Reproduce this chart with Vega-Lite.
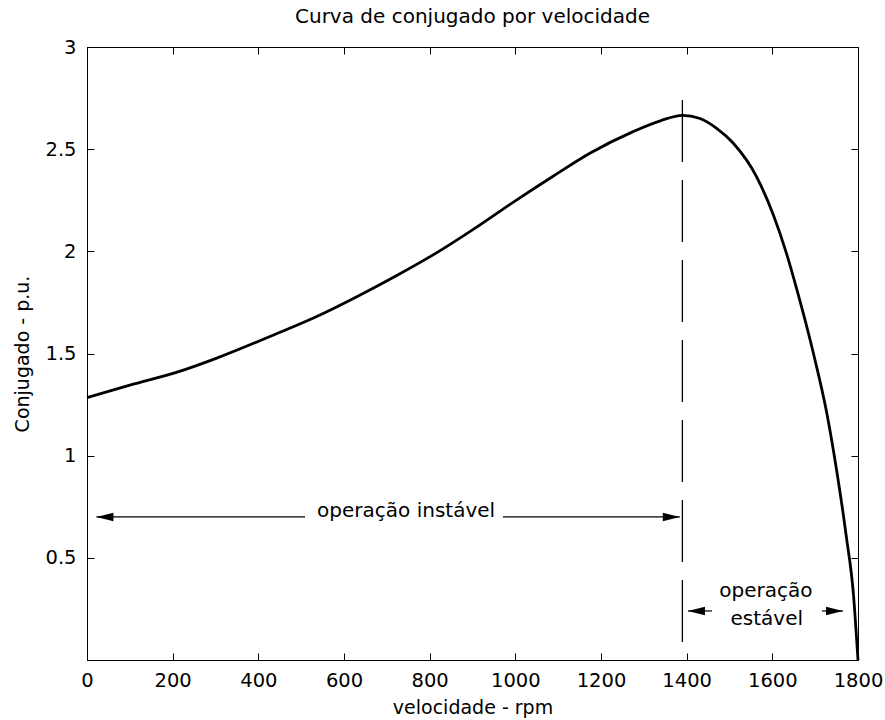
{
  "$schema": "https://vega.github.io/schema/vega-lite/v6.json",
  "autosize": {"type": "none"},
  "padding": {"left": 87, "top": 47, "right": 27, "bottom": 60},
  "width": 771,
  "height": 613,
  "background": "white",
  "title": {"text": "Curva de conjugado por velocidade", "font": "DejaVu Sans", "fontSize": 20, "fontWeight": "normal", "color": "black", "baseline": "alphabetic", "offset": 19, "dy": 25, "frame": "group", "anchor": "middle"},
  "config": {
    "view": {"stroke": "black", "strokeWidth": 1},
    "axis": {"labelFont": "DejaVu Sans", "labelFontSize": 19.5, "labelColor": "black", "titleFont": "DejaVu Sans", "titleFontSize": 19, "titleFontWeight": "normal", "titleColor": "black", "domainColor": "black", "tickColor": "black", "grid": false, "labelFlush": false, "labelOverlap": false, "tickSize": -7, "domainWidth": 1, "tickWidth": 1}
  },
  "resolve": {"axis": {"x": "independent", "y": "independent"}},
  "datasets": {
    "curve": [
      {"x": 0, "y": 1.284}, {"x": 100, "y": 1.345}, {"x": 214, "y": 1.411}, {"x": 300, "y": 1.475},
      {"x": 445, "y": 1.599}, {"x": 530, "y": 1.675}, {"x": 630, "y": 1.778}, {"x": 720, "y": 1.878},
      {"x": 814, "y": 1.99}, {"x": 900, "y": 2.105}, {"x": 999, "y": 2.246}, {"x": 1090, "y": 2.37},
      {"x": 1174, "y": 2.48}, {"x": 1275, "y": 2.586}, {"x": 1340, "y": 2.64}, {"x": 1390, "y": 2.665},
      {"x": 1431, "y": 2.65}, {"x": 1470, "y": 2.602}, {"x": 1509, "y": 2.529}, {"x": 1563, "y": 2.366},
      {"x": 1602, "y": 2.18}, {"x": 1633, "y": 1.99}, {"x": 1657, "y": 1.815}, {"x": 1696, "y": 1.5},
      {"x": 1727, "y": 1.21}, {"x": 1750, "y": 0.93}, {"x": 1773, "y": 0.6}, {"x": 1789, "y": 0.33},
      {"x": 1800, "y": 0}
    ],
    "dash": [{"x": 1390, "y": 2.741, "y2": 0.088}],
    "arrows": [
      {"x": 22, "x2": 509, "y": 0.70},
      {"x": 971, "x2": 1384, "y": 0.70},
      {"x": 1403, "x2": 1459, "y": 0.24},
      {"x": 1716, "x2": 1765, "y": 0.24}
    ],
    "heads": [
      {"x": 22, "y": 0.70, "dir": "L"},
      {"x": 1384, "y": 0.70, "dir": "R"},
      {"x": 1403, "y": 0.24, "dir": "L"},
      {"x": 1765, "y": 0.24, "dir": "R"}
    ],
    "labels": [
      {"x": 745, "y": 0.70, "text": "operação instável"},
      {"x": 1585, "y": 0.31, "text": "operação"},
      {"x": 1587, "y": 0.171, "text": "estável"}
    ]
  },
  "layer": [
    {
      "data": {"name": "curve"},
      "mark": {"type": "line", "color": "black", "strokeWidth": 2.8, "interpolate": "monotone"},
      "encoding": {
        "x": {"field": "x", "type": "quantitative", "scale": {"domain": [0, 1800], "nice": false, "zero": false},
              "axis": {"orient": "bottom", "values": [0, 200, 400, 600, 800, 1000, 1200, 1400, 1600, 1800], "format": "d", "labelPadding": 18, "title": "velocidade - rpm", "titleY": 53, "titleBaseline": "alphabetic"}},
        "y": {"field": "y", "type": "quantitative", "scale": {"domain": [0, 3], "nice": false, "zero": false},
              "axis": {"orient": "left", "values": [0.5, 1, 1.5, 2, 2.5, 3], "format": "~g", "labelPadding": 18, "title": "Conjugado - p.u.", "titleX": -65, "titleBaseline": "middle"}}
      }
    },
    {
      "data": {"name": "curve"},
      "mark": {"type": "point", "opacity": 0},
      "encoding": {
        "x": {"field": "x", "type": "quantitative", "scale": {"domain": [0, 1800], "nice": false, "zero": false},
              "axis": {"orient": "top", "values": [200, 400, 600, 800, 1000, 1200, 1400, 1600], "labels": false, "title": null}},
        "y": {"field": "y", "type": "quantitative", "scale": {"domain": [0, 3], "nice": false, "zero": false},
              "axis": {"orient": "right", "values": [0.5, 1, 1.5, 2, 2.5], "labels": false, "title": null}}
      }
    },
    {
      "data": {"name": "dash"},
      "mark": {"type": "rule", "color": "black", "strokeWidth": 1.3, "strokeDash": [62, 18]},
      "encoding": {
        "x": {"field": "x", "type": "quantitative", "axis": null},
        "y": {"field": "y", "type": "quantitative", "axis": null},
        "y2": {"field": "y2"}
      }
    },
    {
      "data": {"name": "arrows"},
      "mark": {"type": "rule", "color": "black", "strokeWidth": 1.2},
      "encoding": {
        "x": {"field": "x", "type": "quantitative", "axis": null},
        "x2": {"field": "x2"},
        "y": {"field": "y", "type": "quantitative", "axis": null}
      }
    },
    {
      "data": {"name": "heads"},
      "mark": {"type": "point", "filled": true, "color": "black", "opacity": 1, "size": 289, "strokeWidth": 0},
      "encoding": {
        "x": {"field": "x", "type": "quantitative", "axis": null},
        "y": {"field": "y", "type": "quantitative", "axis": null},
        "shape": {"field": "dir", "type": "nominal", "legend": null,
                  "scale": {"domain": ["L", "R"], "range": ["M0,0L2,-0.5L2,0.5Z", "M0,0L-2,-0.5L-2,0.5Z"]}}
      }
    },
    {
      "data": {"name": "labels"},
      "mark": {"type": "text", "font": "DejaVu Sans", "fontSize": 20, "color": "black", "align": "center", "baseline": "alphabetic"},
      "encoding": {
        "x": {"field": "x", "type": "quantitative", "axis": null},
        "y": {"field": "y", "type": "quantitative", "axis": null},
        "text": {"field": "text", "type": "nominal"}
      }
    }
  ]
}
